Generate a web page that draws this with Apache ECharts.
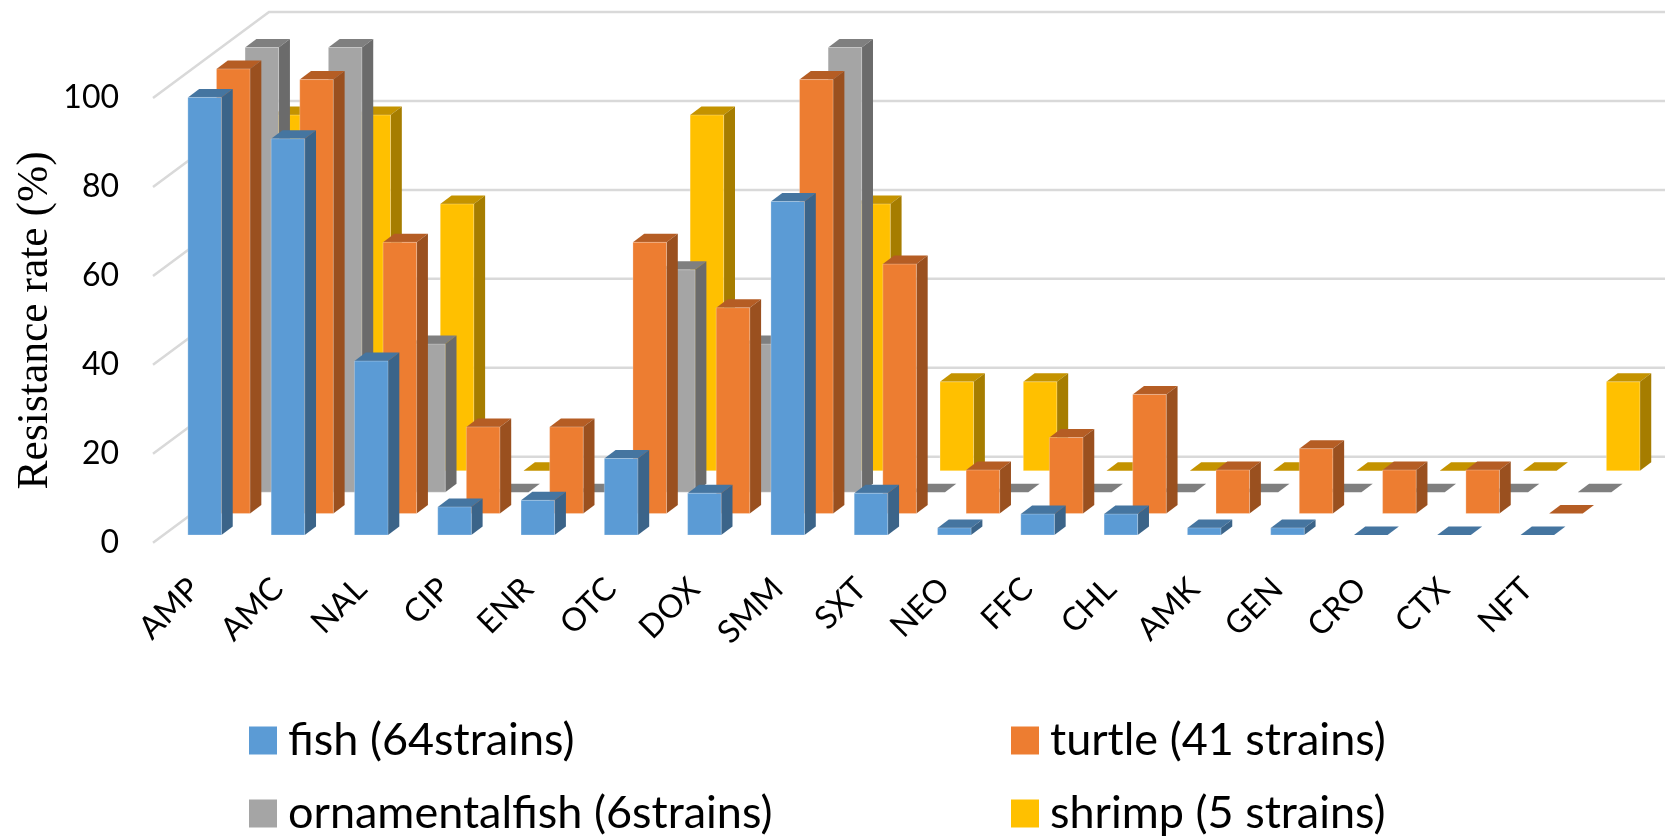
<!DOCTYPE html>
<html lang="en">
<head>
<meta charset="utf-8">
<title>Resistance rate</title>
<script src="https://cdn.jsdelivr.net/npm/echarts@6/dist/echarts.min.js"></script>
<style>
  html, body { margin: 0; padding: 0; background: #fff; }
  #chart { width: 1665px; height: 836px; }
</style>
</head>
<body>
<div id="chart"></div>
<script>
var categories = ['AMP', 'AMC', 'NAL', 'CIP', 'ENR', 'OTC', 'DOX', 'SMM', 'SXT', 'NEO', 'FFC', 'CHL', 'AMK', 'GEN', 'CRO', 'CTX', 'NFT'];
var yTicks = [0, 20, 40, 60, 80, 100];

var fish = [98.4, 89.1, 39.1, 6.3, 7.8, 17.2, 9.4, 75, 9.4, 1.6, 4.7, 4.7, 1.6, 1.6, 0, 0, 0];
var turtle = [100, 97.6, 61, 19.5, 19.5, 61, 46.3, 97.6, 56.1, 9.8, 17.1, 26.8, 9.8, 14.6, 9.8, 9.8, 0];
var ornamental = [100, 100, 33.3, 0, 0, 50, 33.3, 100, 0, 0, 0, 0, 0, 0, 0, 0, 0];
var shrimp = [80, 80, 60, 0, 0, 80, 0, 60, 20, 20, 0, 0, 0, 0, 0, 0, 20];

var fishName = 'fish (64strains)';
var turtleName = 'turtle (41 strains)';
var ornamentalName = 'ornamentalfish (6strains)';
var shrimpName = 'shrimp (5 strains)';

// fake 3d: how far each row of bars sits behind the front plane
var wallDX = 116, wallDY = 86;
var firstDX = 10, firstDY = 7.7;
var rowDX = 28.6, rowDY = 21.4;
var barDX = 11.3, barDY = 8.5;
var barRatio = 0.403;

function renderWall(params, api) {
    var p = api.coord([0, api.value(0)]);
    var x0 = p[0] - api.size([1, 0])[0] / 2;
    return {
        type: 'polyline',
        silent: true,
        shape: { points: [[x0, p[1]], [x0 + wallDX, p[1] - wallDY], [api.getWidth(), p[1] - wallDY]] },
        style: { fill: null, stroke: '#D9D9D9', lineWidth: 2.5 }
    };
}

function barRenderer(row, front, top, side) {
    return function (params, api) {
        var c = api.value(0);
        var v = api.value(1);
        var w = api.size([1, 0])[0] * barRatio;
        var hi = api.coord([c, v]);
        var lo = api.coord([c, 0]);
        var x = lo[0] + firstDX + row * rowDX - w / 2;
        var yb = lo[1] - firstDY - row * rowDY;
        var yt = hi[1] - firstDY - row * rowDY;
        var kids = [{
            type: 'polygon',
            shape: { points: [[x, yt], [x + barDX, yt - barDY], [x + w + barDX, yt - barDY], [x + w, yt]] },
            style: { fill: top }
        }];
        if (v > 0) {
            kids.push({
                type: 'polygon',
                shape: { points: [[x + w, yt], [x + w + barDX, yt - barDY], [x + w + barDX, yb - barDY], [x + w, yb]] },
                style: { fill: side }
            });
            kids.push({
                type: 'rect',
                shape: { x: x, y: yt, width: w, height: yb - yt },
                style: { fill: front, stroke: 'rgba(255,255,255,0.25)', lineWidth: 1 }
            });
        }
        return { type: 'group', children: kids };
    };
}

function barSeries(name, values, row, front, top, side) {
    return {
        name: name,
        type: 'custom',
        coordinateSystem: 'cartesian2d',
        clip: false,
        itemStyle: { color: front },
        encode: { x: 0, y: 1 },
        data: values.map(function (v, i) { return [i, v]; }),
        renderItem: barRenderer(row, front, top, side)
    };
}

var legendText = { fontFamily: 'Lato', fontSize: 45, color: '#000', padding: [0, 0, 0, 6] };

var chart = echarts.init(document.getElementById('chart'));
chart.setOption({
    animation: false,
    backgroundColor: '#fff',
    grid: { left: 153, top: 98, width: 1416, height: 444.7, outerBoundsMode: 'none' },
    legend: [
        { data: [fishName, ornamentalName], orient: 'vertical', left: 249, top: 718, padding: 0, itemWidth: 28, itemHeight: 28, itemGap: 28, icon: 'rect', textStyle: legendText },
        { data: [turtleName, shrimpName], orient: 'vertical', left: 1011, top: 718, padding: 0, itemWidth: 28, itemHeight: 28, itemGap: 28, icon: 'rect', textStyle: legendText }
    ],
    xAxis: {
        type: 'category',
        data: categories,
        axisLine: { show: false },
        axisTick: { show: false },
        axisLabel: { rotate: 45, margin: 41, interval: 0, fontFamily: 'Lato', fontSize: 32, color: '#000' }
    },
    yAxis: {
        type: 'value',
        min: 0,
        max: 100,
        interval: 20,
        axisLine: { show: false },
        axisTick: { show: false },
        splitLine: { show: false },
        axisLabel: { margin: 34, padding: [4, 0, 0, 0], fontFamily: 'Lato', fontSize: 32, color: '#000' },
        name: 'Resistance rate (%)',
        nameLocation: 'middle',
        nameRotate: 90,
        nameGap: 95,
        nameMoveOverlap: false,
        nameTextStyle: { fontFamily: 'Liberation Serif', fontSize: 43.5, color: '#000' }
    },
    series: [
        {
            name: 'wall',
            type: 'custom',
            coordinateSystem: 'cartesian2d',
            clip: false,
            silent: true,
            encode: { y: 0 },
            data: yTicks.map(function (v) { return [v]; }),
            renderItem: renderWall
        },
        barSeries(shrimpName, shrimp, 3, '#FFC000', '#C49300', '#A67D00'),
        barSeries(ornamentalName, ornamental, 2, '#A5A5A5', '#7F7F7F', '#6B6B6B'),
        barSeries(turtleName, turtle, 1, '#ED7D31', '#B55D24', '#9A501F'),
        barSeries(fishName, fish, 0, '#5B9BD5', '#4575A0', '#3B6489')
    ]
});
</script>
</body>
</html>
